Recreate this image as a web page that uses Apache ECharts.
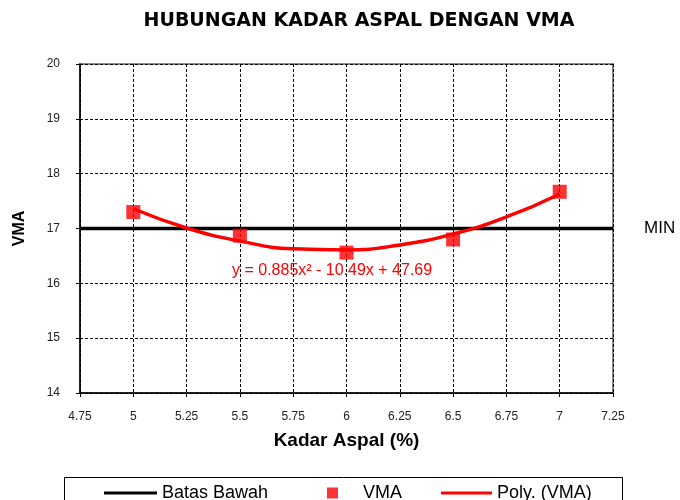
<!DOCTYPE html>
<html>
<head>
<meta charset="utf-8">
<script src="https://cdn.jsdelivr.net/npm/echarts@6/dist/echarts.min.js"></script>
<style>
  html, body { margin: 0; padding: 0; background: #fff; }
  #chart { width: 680px; height: 500px; }
</style>
</head>
<body>
<div id="chart"></div>
<script>
// kadar aspal (%) dan nilai VMA
var kadarAspal = [5, 5.5, 6, 6.5, 7];
var vma = [17.3, 16.87, 16.56, 16.8, 17.67];

// garis batas bawah (MIN)
var batasX = [4.75, 7.25];
var batasY = [17, 17];

// trendline poly. (VMA)
var polyX = [5, 5.25, 5.5, 5.75, 6, 6.25, 6.5, 6.75, 7];
var polyY = [17.36, 17.01, 16.77, 16.63, 16.61, 16.7, 16.9, 17.21, 17.63];

var xTicks = [4.75, 5, 5.25, 5.5, 5.75, 6, 6.25, 6.5, 6.75, 7, 7.25];
var yTicks = [14, 15, 16, 17, 18, 19, 20];

var arial = 'Arial, Liberation Sans, sans-serif';
var chart = echarts.init(document.getElementById('chart'));

function pairs(xs, ys) {
  return xs.map(function (x, i) { return [x, ys[i]]; });
}

var option = {
  animation: false,
  title: {
    text: 'HUBUNGAN KADAR ASPAL DENGAN VMA',
    left: 354,
    textAlign: 'center',
    top: 7,
    textStyle: { fontFamily: 'DejaVu Sans, Arial', fontSize: 19, fontWeight: 'bold', color: '#000' }
  },
  grid: {
    left: 80, right: 67, top: 64, bottom: 107,
    show: true, borderColor: '#888', borderWidth: 2
  },
  xAxis: {
    type: 'value',
    min: xTicks[0], max: xTicks[xTicks.length - 1], interval: 0.25,
    name: 'Kadar Aspal (%)',
    nameLocation: 'middle',
    nameGap: 38,
    nameTextStyle: { fontFamily: arial, fontSize: 19, fontWeight: 'bold', color: '#000' },
    axisLine: { lineStyle: { color: '#000', width: 1.5 } },
    axisTick: { show: true, length: 4, lineStyle: { color: '#000' } },
    axisLabel: { margin: 18, fontFamily: arial, fontSize: 12, color: '#222' },
    splitLine: { lineStyle: { color: '#000', type: [3, 2], width: 1 } }
  },
  yAxis: {
    type: 'value',
    min: yTicks[0], max: yTicks[yTicks.length - 1], interval: 1,
    name: 'VMA',
    nameLocation: 'middle',
    nameGap: 52,
    nameTextStyle: { fontFamily: arial, fontSize: 16, fontWeight: 'bold', color: '#000' },
    axisLine: { show: true, lineStyle: { color: '#000', width: 1.5 } },
    axisTick: { show: true, length: 4, lineStyle: { color: '#000' } },
    axisLabel: { margin: 20, fontFamily: arial, fontSize: 12, color: '#222' },
    splitLine: { lineStyle: { color: '#000', type: [3, 2], width: 1 } }
  },
  legend: [
    {
      data: [{ name: 'Batas Bawah', icon: 'rect' }],
      left: 99, top: 479, itemWidth: 53, itemHeight: 3, itemGap: 0,
      textStyle: { fontFamily: arial, fontSize: 18, color: '#000' }
    },
    {
      data: [{ name: 'VMA', icon: 'rect' }],
      left: 322, top: 479, itemWidth: 11, itemHeight: 11,
      textStyle: { fontFamily: arial, fontSize: 18, color: '#000', padding: [0, 0, 0, 20] }
    },
    {
      data: [{ name: 'Poly. (VMA)', icon: 'rect' }],
      left: 436, top: 479, itemWidth: 51, itemHeight: 3,
      textStyle: { fontFamily: arial, fontSize: 18, color: '#000' }
    }
  ],
  graphic: [
    {
      type: 'rect', left: 62, top: 475, silent: true,
      shape: { width: 558, height: 30 },
      style: { fill: 'none', stroke: '#000', lineWidth: 1 }
    },
    {
      type: 'text', left: 644, top: 220,
      style: { text: 'MIN', fill: '#000', font: '17px Arial, Liberation Sans' }
    },
    {
      type: 'text', left: 232, top: 263,
      style: { text: 'y = 0.885x² - 10.49x + 47.69', fill: '#ff0000', font: '16px Arial, Liberation Sans' }
    }
  ],
  series: [
    {
      name: 'Batas Bawah',
      type: 'line',
      data: pairs(batasX, batasY),
      symbol: 'none',
      itemStyle: { color: '#000' },
      lineStyle: { color: '#000', width: 3.5 },
      z: 3
    },
    {
      name: 'Poly. (VMA)',
      type: 'line',
      data: pairs(polyX, polyY),
      smooth: 0.5,
      symbol: 'none',
      itemStyle: { color: '#ff0000' },
      lineStyle: { color: '#ff0000', width: 3.5 },
      z: 4
    },
    {
      name: 'VMA',
      type: 'scatter',
      data: pairs(kadarAspal, vma),
      symbol: 'rect',
      symbolSize: 14,
      itemStyle: { color: '#ff0000' },
      z: 5
    }
  ]
};

chart.setOption(option);
</script>
</body>
</html>
